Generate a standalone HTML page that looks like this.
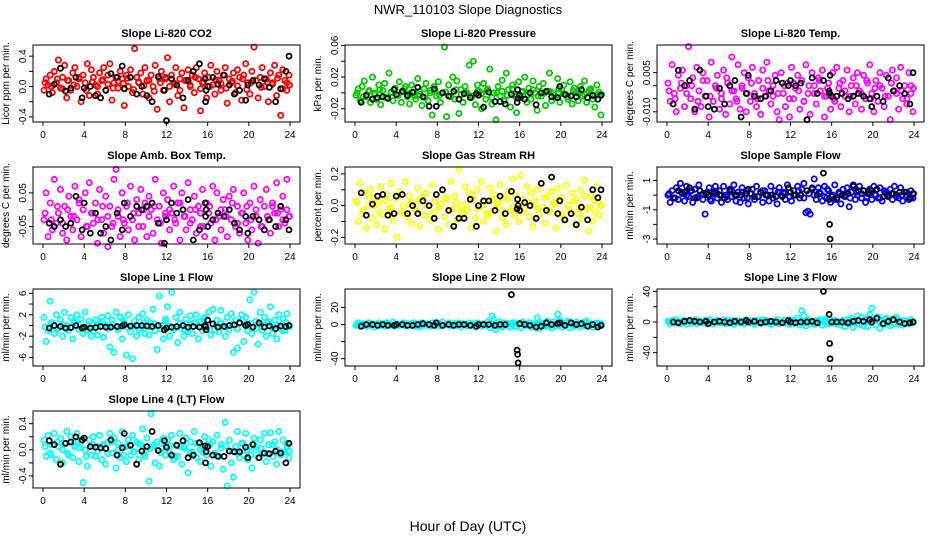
<!DOCTYPE html>
<html><head><meta charset="utf-8"><style>
html,body{margin:0;padding:0;background:#fff;}
svg{display:block;font-family:"Liberation Sans",Arial,sans-serif;}
</style></head><body>
<svg id="chart" width="936" height="540" viewBox="0 0 936 540" xmlns="http://www.w3.org/2000/svg">
<rect width="936" height="540" fill="#fff"/>
<text x="468" y="14" text-anchor="middle" font-size="13">NWR_110103  Slope Diagnostics</text>
<text x="468" y="531" text-anchor="middle" font-size="14">Hour of Day (UTC)</text>
</svg>
<script>
// shared hours for colored points
const hours = [
0.1,0.3,0.5,0.7,0.9,1.1,1.3,1.5,1.7,1.9,2.1,2.3,
2.5,2.7,2.9,3.1,3.3,3.5,3.7,3.9,4.1,4.3,4.5,4.7,
4.9,5.1,5.3,5.5,5.7,5.9,6.1,6.3,6.5,6.7,6.9,7.1,
7.3,7.5,7.7,7.9,8.1,8.3,8.5,8.7,8.9,9.1,9.3,9.5,
9.7,9.9,10.1,10.3,10.5,10.7,10.9,11.1,11.3,11.5,11.7,11.9,
12.1,12.3,12.5,12.7,12.9,13.1,13.3,13.5,13.7,13.9,14.1,14.3,
14.5,14.7,14.9,15.1,15.3,15.5,15.7,15.9,16.1,16.3,16.5,16.7,
16.9,17.1,17.3,17.5,17.7,17.9,18.1,18.3,18.5,18.7,18.9,19.1,
19.3,19.5,19.7,19.9,20.1,20.3,20.5,20.7,20.9,21.1,21.3,21.5,
21.7,21.9,22.1,22.3,22.5,22.7,22.9,23.1,23.3,23.5,23.7,23.9];
// hours for dense core colored points
const coreHours = [0.2,0.8,1.4,1.9,2.4,3.0,3.5,4.2,4.8,5.3,5.8,6.3,
6.8,7.3,7.8,8.2,8.8,9.3,9.8,10.3,10.8,11.4,11.9,12.3,
12.8,13.3,13.8,14.3,14.8,15.3,15.6,16.2,16.8,17.3,17.8,18.4,
18.9,19.4,19.8,20.2,20.7,21.2,21.8,22.3,22.8,23.3,23.7,23.95];
// hours for black points
const blackHours = [0.6,1.1,1.7,2.2,2.7,3.2,3.8,4.0,4.6,5.1,5.6,6.1,
6.6,7.2,7.7,7.9,8.5,9.1,9.6,10.1,10.6,11.2,11.8,12.0,
12.5,13.0,13.6,14.1,14.6,15.2,15.75,15.8,15.85,16.0,16.5,17.0,
17.6,18.1,18.6,19.1,19.7,19.9,20.4,21.0,21.5,22.0,22.6,23.1,
23.6,23.9];
const titles = ["Slope Li-820 CO2","Slope Li-820 Pressure","Slope Li-820 Temp.","Slope Amb. Box Temp.","Slope Gas Stream RH","Slope Sample Flow","Slope Line 1 Flow","Slope Line 2 Flow","Slope Line 3 Flow","Slope Line 4 (LT) Flow"];
const yTitles = ["Licor ppm per min.","kPa per min.","degrees C per min.","degrees C per min.","percent per min.","ml/min per min.","ml/min per min.","ml/min per min.","ml/min per min.","ml/min per min."];
const colors = ["#ff0000","#00cc00","#ff00ff","#ff00ff","#ffff00","#0000ff","#00ffff","#00ffff","#00ffff","#00ffff"];
const units = [0.01,0.001,0.001,0.01,0.01,0.1,0.1,1,1,0.01];
const yMin = [-0.467,-0.0368,-0.0139,-0.102,-0.2417,-3.34,-7.56,-48.6,-57.4,-0.584];
const yMax = [0.547,0.0605,0.0156,0.127,0.2435,1.92,6.8,41.6,43.1,0.594];
const yTicks = [[-0.4,-0.2,0,0.2,0.4],[-0.02,0,0.02,0.04,0.06],[-0.01,-0.005,0,0.005],[-0.05,0,0.05],[-0.2,-0.1,0,0.1,0.2],[-3,-2,-1,0,1],[-6,-4,-2,0,2,4,6],[-40,-20,0,20],[-40,-20,0,20,40],[-0.4,-0.2,0,0.2,0.4]];
const yTickLabels = [["-0.4","","0.0","","0.4"],["-0.02","","0.02","","0.06"],["-0.010","","","0.005"],["-0.05","","0.05"],["-0.2","","0.0","","0.2"],["-3","","-1","","1"],["-6","","-2","","2","","6"],["-40","","0","20"],["-40","","0","","40"],["-0.4","","0.0","","0.4"]];
const xTicks = [0,4,8,12,16,20,24];

const c1 = [-5,10,2,15,-8,20,5,35,-2,12,28,-15,8,-5,18,25,0,10,-20,15,5,30,-12,22,12,2,-10,18,8,25,-5,15,30,-18,5,12,-2,20,10,-25,15,0,22,-8,50,12,5,18,-10,25,8,-15,15,0,28,-30,10,20,-5,12,38,-20,15,5,25,-12,10,18,-28,8,22,0,15,-8,25,10,-32,5,18,-15,12,28,2,-10,20,8,-5,15,25,-22,10,5,18,-8,22,12,-18,15,30,5,-10,20,52,8,-15,12,25,0,10,-20,18,5,28,-12,15,-38,22,8,-5,15];
const c2 = [-3,5,-10,8,15,-5,2,-12,20,0,-8,10,-15,3,12,-6,25,0,-10,6,-3,14,-12,2,8,-5,-14,10,0,-8,18,-2,-16,5,12,-10,3,-28,8,-4,14,-12,0,58,-30,10,-5,20,-8,15,-26,4,-12,8,0,35,-6,40,-15,10,2,-20,12,-8,5,30,-14,0,-34,8,-4,16,-10,25,4,-18,10,-2,-25,14,-6,2,20,-12,6,-8,15,0,-22,8,-4,12,-16,2,25,-10,0,-6,18,-12,4,10,-2,-8,14,-14,6,0,-10,8,-4,15,-12,2,5,-8,-18,10,-2,-28];
const c3 = [1,-6,8,-3,-10,4,-1,6,-8,0,15,-5,3,-10,7,-2,-8,5,-4,2,-12,9,-6,0,4,-9,-3,6,-11,1,-7,11,-2,-5,8,-9,-1,5,-10,3,-6,7,-3,-8,2,-11,6,-4,9,-2,-7,0,4,-10,-13,5,-3,-8,1,-12,7,-5,-1,4,-9,2,-6,8,-3,-11,5,0,-7,3,-2,6,-12,-4,1,-9,5,-6,7,-1,-8,2,-4,6,-10,0,3,-7,5,-2,-9,4,-5,1,8,-3,-10,2,-6,5,-1,-8,4,-4,-13,6,-2,3,-9,7,-5,0,-7,5,-3,-10];
const c4 = [-3,5,-8,2,-6,9,-4,-1,6,-7,1,-9,4,-2,-6,7,-3,3,-8,0,5,-5,8,-1,-4,2,-10,6,-3,-7,4,-11,1,-5,9,12,-2,-8,5,-4,1,-6,7,-3,-9,3,-1,6,-5,2,-8,4,0,-7,9,-3,1,-10,5,-2,3,-6,-1,7,-4,2,-9,5,-2,-6,8,0,-3,4,-7,1,-5,6,-8,2,-1,-4,7,-9,5,-2,-6,3,0,-8,4,-3,6,-5,1,-7,-1,5,-4,-9,2,-6,7,-2,-10,3,-5,1,6,-3,-7,2,-1,8,-5,0,4,-4,9,-2];
const c5 = [3,-10,14,-5,8,-14,0,10,-8,5,-12,2,12,-6,-15,7,-2,14,-9,4,-20,9,-4,0,15,-7,6,-11,2,-3,11,-13,5,-6,8,0,-9,13,-4,7,-15,1,10,-7,4,-12,15,-2,6,-9,23,0,-5,12,-3,8,-14,4,-8,10,-1,15,-10,3,-6,11,-4,7,-16,2,13,-8,5,-12,9,-3,17,-6,1,-10,19,4,-2,12,-7,8,-13,3,10,-5,14,-1,-11,6,-4,9,2,-14,11,-6,5,-9,13,0,-3,8,-12,4,-5,10,-8,16,-2,-16,6,-10,3,12,-6,0];
const c6 = [0,-5,3,-2,5,-3,8,1,-4,6,-1,3,-5,4,-2,7,0,-3,-13,2,5,-4,1,6,-2,3,-5,6,0,-3,4,-1,7,-4,2,-5,5,-2,3,-6,1,4,-3,6,-1,2,-5,3,0,-4,6,-2,3,-6,5,0,2,-3,7,-1,-4,3,0,6,-2,4,8,-12,-11,-13,4,11,-3,5,1,-4,6,-2,3,-5,0,7,-3,2,-6,4,-1,5,-8,2,7,-3,0,6,-2,3,-5,1,4,-3,6,0,-2,5,-4,3,1,-1,4,-3,6,0,-2,5,-4,2,0,-3,3,-2];
const c7 = [15,-30,-10,45,5,-15,20,-5,10,-20,25,0,-10,15,-25,5,20,-8,12,-15,25,-5,8,-20,-10,10,-18,5,15,-22,0,18,-40,10,-50,25,-8,15,-25,5,-55,20,-12,-62,8,-20,15,-5,22,-15,10,-18,5,30,-10,-45,55,0,-25,12,35,-20,62,-8,15,-32,25,-5,-20,12,-12,18,-15,5,20,-25,8,-10,15,-5,25,-18,30,-8,10,-12,28,0,-20,15,-8,22,-50,10,-42,5,20,-30,15,-10,48,-15,62,8,-35,25,-10,15,-20,5,35,-15,10,-25,20,-5,12,-10,22,0];
const c8 = [-1,2,-2,1,0,-2,2,-1,1,-3,0,2,-1,1,-2,2,0,-1,3,-2,1,-1,0,2,-2,1,0,-1,2,-2,1,-3,2,0,-1,1,-2,2,0,-1,1,-2,3,-1,0,2,-2,1,0,-1,2,-3,1,0,-2,2,-1,1,-3,2,0,-2,1,-1,3,-4,10,6,-6,-2,3,-3,2,-1,1,-3,0,2,-2,1,-4,3,-1,0,2,-3,1,-1,8,-5,2,0,-2,4,-1,-4,3,-2,12,5,-3,2,-1,4,-4,1,-2,3,0,-3,2,-1,4,-2,1,-3,0,2,-1,1];
const c9 = [1,-2,2,-1,3,0,-2,1,2,-3,0,2,-1,3,-2,1,0,-1,2,-2,3,0,-3,1,2,-1,0,3,-2,1,-1,2,-3,0,2,-1,1,-2,3,0,-1,2,-3,1,0,-2,3,-1,2,0,-3,1,-1,3,-2,0,2,-1,1,-3,3,-2,0,5,-4,15,8,-5,3,-2,1,-3,2,-1,3,-4,0,1,-2,3,-1,2,-3,0,-4,2,-6,3,-2,5,-7,1,8,-3,6,-5,4,-6,10,18,3,-4,7,-8,2,-3,5,-1,-5,4,-2,6,-3,1,-4,2,0,-2,3,-1];
const c10 = [15,-10,22,-5,8,25,-15,5,18,-20,10,28,-8,20,-12,5,25,-18,12,-50,0,-25,15,-8,20,-10,5,22,-15,8,-22,12,25,-5,18,-28,10,-12,28,5,-18,15,-8,22,-3,12,-15,8,32,-10,18,-48,55,5,-20,12,-25,10,18,-8,15,-5,22,-15,8,-10,25,-22,5,18,-35,12,-3,28,-12,10,-18,5,20,-8,15,-25,12,-5,22,-10,8,-30,42,-55,15,-20,-42,5,28,-12,10,-8,25,-15,5,-28,18,0,-12,15,-5,25,-18,8,26,-10,12,-22,28,-8,15,-3,10,-12];

const d1 = [5,0,10,-3,8,2,12,-5,6,0,9,3,-2,7,4,11,-4,6,1,8,-6,5,10,0,3,-5,8,2,12,-3,6,0,9,4,-2,7,1,10,-4,5,8,-1,6,3,11,-3,5,2];
const d2 = [0,-5,3,-2,4,-6,1,-3,5,-1,-4,2,-6,0,3,-3,1,-5,4,-2,0,-4,2,-1,3,-6,0,2,-3,5,-5,1,-2,4,-4,0,2,-3,5,-1,-5,3,0,-2,4,-4,1,-2];
const d3 = [-2,-5,1,-3,0,-6,2,-4,-1,-5,3,-2,-6,0,-3,1,-5,-1,2,-4,-3,0,-5,1,-2,-6,0,-3,2,-4,-1,-5,1,-2,-4,0,-3,2,-5,-1,0,-4,1,-3,-2,-5,0,-1];
const d4 = [-1,-3,1,-4,0,-2,2,-5,-1,-3,1,-2,-4,0,-3,2,-1,-5,0,-2,1,-4,-1,0,-3,2,-2,-4,0,-1,-5,1,-3,0,-2,2,-4,-1,1,-3,0,-5,-2,1,-1,-3,0,-2];
const d5 = [2,-3,5,0,-4,3,-1,6,-5,1,-2,4,0,-6,3,-1,5,-3,2,-4,1,6,-2,0,-5,3,1,-3,4,-1,7,-4,2,0,-2,5,-3,1,4,-5,0,3,-2,6,-1,-4,2,0];
const d6 = [1,-2,2,0,3,-1,1,-3,2,0,-1,3,0,2,-2,1,-1,3,0,-2,2,1,-1,0,3,-2,1,0,2,-1,4,-3,1,0,-2,2,1,-1,3,0,-2,2,1,-1,0,2,-2,1];
const d7 = [-3,5,-8,2,-5,8,0,-10,4,-2,6,-6,2,-4,10,-3,0,-8,5,-2,3,-6,8,-1,-5,4,-10,2,6,-3,12,-8,0,5,-4,2,-7,10,-2,4,-6,1,8,-4,0,-10,5,-2];
const d8 = [0,-1,1,0,-1,1,0,-1,1,0,0,-1,1,0,-1,1,0,-1,1,0,-1,0,1,0,-1,1,0,-1,1,2,-2,1,-1,0,1,-1,2,0,-1,1,2,-1,0,3,-1,1,0,-1];
const d9 = [1,0,-1,1,0,2,-1,0,1,-1,2,0,-1,1,0,-1,2,0,1,-1,0,2,-1,1,0,-1,2,0,1,3,-2,1,0,-1,2,1,0,3,-1,2,1,4,2,3,1,-1,2,0];
const d10 = [5,-8,12,0,-5,10,3,-10,8,-2,6,-6,12,0,-8,5,-3,10,-6,2,8,-4,0,6,-10,5,2,-6,10,0,-4,8,-8,3,6,-2,-5,10,0,-8,5,2,-6,8,0,-4,6,-2];

const k1 = [-10,3,24,-6,-2,12,-15,-2,0,-12,-15,-5,17,12,27,-3,12,-10,0,-12,-20,13,-5,-45,10,2,-15,8,20,30,10,-20,-5,0,12,3,15,2,-10,-5,-18,2,8,2,10,-1,-20,-3,20,40];
const k2 = [-12,-3,-8,-6,-5,-7,4,-2,2,-3,1,7,-5,-17,5,-17,0,-4,2,-8,-1,-6,-1,-3,-18,1,-11,-11,-14,-2,-12,4,-7,-3,-8,0,-15,0,2,-5,-6,8,-2,-4,-5,4,-6,-3,-8,-3];
const k3 = [-7,6,0,2,-9,6,-4,-8,-9,-1,-7,0,2,-12,-3,4,-4,-5,-4,-2,2,1,0,2,0,1,-13,3,-3,2,-2,-3,4,-4,-4,-3,-5,-4,-3,-4,-5,-8,-4,-6,3,-2,0,-3,-7,5];
const k4 = [-4,-5,-3,-5,-4,4,-6,2,-7,-1,-7,-5,-9,-1,-6,2,-2,1,0,1,2,-4,-10,-3,2,-1,0,3,-9,-6,2,-2,0,-5,-3,-1,-2,0,-4,-6,-2,-7,-2,-3,-6,-3,-5,1,-3,-6];
const k5 = [8,-6,1,6,7,-6,-5,6,7,-5,0,-5,3,0,-8,7,10,-3,-13,-8,-8,4,-13,0,3,3,-3,6,-5,9,-2,4,0,-3,2,0,-8,14,-3,18,-5,3,-9,-5,-12,-1,-9,10,5,10];
const k6 = [-2,3,2,5,-2,3,1,0,2,0,-2,3,0,0,1,4,-1,2,0,0,-1,-1,5,2,0,0,3,5,0,15,-3,-20,-30,-1,-2,0,1,6,3,3,1,3,4,-1,0,1,2,2,-2,1];
const k7 = [-5,0,-2,-5,-4,0,-5,-3,-5,-4,-2,-3,-3,-2,-1,1,-1,0,0,-1,-2,0,-8,-5,-3,-2,0,-3,-2,-3,0,-2,-8,10,3,-3,-2,0,1,5,0,2,-3,5,-3,-1,-6,-1,-2,0];
const k8 = [-2,0,0,-1,0,-1,-1,0,0,-1,-1,0,1,0,-1,2,-1,0,-1,0,0,-1,-2,0,0,0,-1,0,0,35,-30,-35,-45,1,0,-1,-3,-2,2,0,1,2,-1,2,0,1,-2,0,-3,-1];
const k9 = [0,-1,1,2,1,0,1,-2,0,1,0,-1,1,0,2,0,1,-1,0,1,0,-1,2,0,-1,0,0,1,-1,40,10,-28,-48,0,0,0,-1,1,2,1,3,0,5,-2,1,3,0,-2,-1,0];
const k10 = [14,8,-22,10,12,20,15,18,5,4,3,2,15,-8,3,25,7,-22,-2,5,28,-1,14,4,-8,7,14,-12,-8,11,6,-20,-3,5,-8,-10,-10,-2,-3,-3,4,-12,8,-12,-5,-6,-2,-5,-20,10];

const colored = [c1,c2,c3,c4,c5,c6,c7,c8,c9,c10];
const core = [d1,d2,d3,d4,d5,d6,d7,d8,d9,d10];
const black = [k1,k2,k3,k4,k5,k6,k7,k8,k9,k10];

const NS = "http://www.w3.org/2000/svg";
const svg = document.getElementById("chart");
function mk(tag, attrs, parent) {
  const e = document.createElementNS(NS, tag);
  for (const k in attrs) e.setAttribute(k, attrs[k]);
  (parent || svg).appendChild(e);
  return e;
}
const boxW = 267, boxH = 77;
for (let p = 0; p < 10; p++) {
  const col = p % 3, row = Math.floor(p / 3);
  const L = 33 + 312 * col, T = 45 + 122 * row, B = T + boxH;
  const xs = h => L + 10 + h * (247 / 24);
  const ys = v => B - (v - yMin[p]) / (yMax[p] - yMin[p]) * boxH;
  const g = mk("g", {});
  
  
  const t = mk("text", {x: L + boxW / 2, y: T - 8, "text-anchor": "middle", "font-size": "11", "font-weight": "bold"}, g);
  
  
  t.textContent = titles[p];
  const yt = mk("text", {x: 0, y: 0, "text-anchor": "middle", "font-size": "10", transform: "translate(" + (L - 24) + "," + (T + boxH / 2) + ") rotate(-90)"}, g);
  
  
  yt.textContent = yTitles[p];
  const cp = mk("g", {fill: "none", stroke: colors[p], "stroke-width": "1.8"}, g);
  
  
  const cv = colored[p];
  for (let i = 0; i < Math.min(cv.length, hours.length); i++) {
    const c = mk("circle", {cx: xs(hours[i]).toFixed(1), cy: ys(cv[i] * units[p]).toFixed(1), r: 2.6}, cp);
    
    
  }
  const dv = core[p];
  for (let i = 0; i < Math.min(dv.length, coreHours.length); i++) {
    const c = mk("circle", {cx: xs(coreHours[i]).toFixed(1), cy: ys(dv[i] * units[p]).toFixed(1), r: 2.6}, cp);
    
    
  }
  const bp = mk("g", {fill: "none", stroke: "#000", "stroke-width": "1.8"}, g);
  
  
  const bv = black[p];
  for (let i = 0; i < Math.min(bv.length, blackHours.length); i++) {
    const c = mk("circle", {cx: xs(blackHours[i]).toFixed(1), cy: ys(bv[i] * units[p]).toFixed(1), r: 2.5}, bp);
    
    
  }
  const box = mk("rect", {x: L, y: T, width: boxW, height: boxH, fill: "none", stroke: "#000", "stroke-width": "1"}, g);
  
  
  const xa = mk("g", {stroke: "#000", "stroke-width": "1"}, g);
  
  
  xTicks.forEach(v => {
    mk("line", {x1: xs(v), x2: xs(v), y1: B, y2: B + 4}, xa);
    const tl = mk("text", {x: xs(v), y: B + 16, "text-anchor": "middle", "font-size": "10", stroke: "none", fill: "#000"}, g);
    
    
    tl.textContent = String(v);
  });
  const ya = mk("g", {stroke: "#000", "stroke-width": "1"}, g);
  
  
  yTicks[p].forEach((v, i) => {
    const y = ys(v);
    mk("line", {x1: L - 4, x2: L, y1: y, y2: y}, ya);
    const lab = yTickLabels[p][i];
    if (lab) {
      const tl = mk("text", {x: 0, y: 0, "text-anchor": "middle", "font-size": "10", transform: "translate(" + (L - 7) + "," + y.toFixed(1) + ") rotate(-90)"}, g);
      
      
      tl.textContent = lab;
    }
  });
}
</script>
</body></html>
